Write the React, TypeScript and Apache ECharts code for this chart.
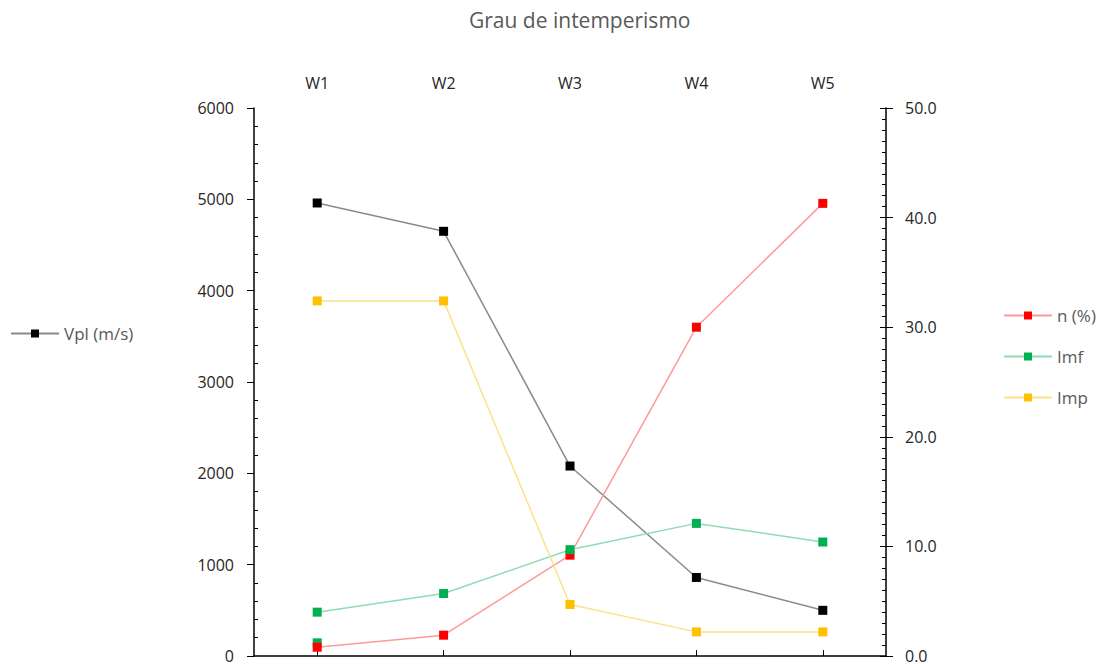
import React, { useEffect, useRef } from "react";
import * as echarts from "echarts";

const categories = ["W1", "W2", "W3", "W4", "W5"];
const vpl = [4960, 4650, 2080, 860, 500];
const nPct = [0.8, 1.9, 9.2, 30.0, 41.3];
const imf = [4.0, 5.7, 9.7, 12.1, 10.4];
const imp = [32.4, 32.4, 4.7, 2.2, 2.2];
const extraGreen = [1.2, null, null, null, null];

const FONT = "'Open Sans', 'Noto Sans', sans-serif";

export default function App() {
  const ref = useRef<HTMLDivElement>(null);
  useEffect(() => {
    if (!ref.current) return;
    const chart = echarts.init(ref.current, null, { renderer: "svg" });
    const axisLine = { show: true, lineStyle: { color: "#000", width: 1.5 } };
    const labelStyle = { color: "#262626", fontSize: 16, fontFamily: FONT };
    const legendText = { color: "#595959", fontSize: 17, fontFamily: FONT };
    chart.setOption({
      animation: false,
      backgroundColor: "#fff",
      title: {
        text: "Grau de intemperismo",
        left: 464,
        top: 4,
        textStyle: { color: "#595959", fontSize: 21, fontWeight: "normal", fontFamily: FONT },
      },
      legend: [
        {
          data: ["Vpl (m/s)"],
          left: 5,
          top: 320,
          itemWidth: 48,
          itemHeight: 10,
          textStyle: legendText,
        },
        {
          data: ["n (%)", "Imf", "Imp"],
          orient: "vertical",
          left: 998,
          top: 302,
          itemWidth: 48,
          itemHeight: 10,
          itemGap: 24,
          textStyle: legendText,
        },
      ],
      grid: { left: 254, right: 222, top: 108, bottom: 3, containLabel: false },
      xAxis: {
        type: "category",
        position: "top",
        data: categories,
        boundaryGap: true,
        axisLine,
        axisTick: { show: true, alignWithLabel: true, length: 6, lineStyle: { color: "#000" } },
        axisLabel: { ...labelStyle, margin: 17 },
        splitLine: { show: false },
      },
      yAxis: [
        {
          type: "value",
          position: "left",
          min: 0,
          max: 6000,
          interval: 1000,
          axisLine,
          axisTick: { show: true, length: 7, lineStyle: { color: "#000" } },
          axisLabel: { ...labelStyle, margin: 20, formatter: (v: number) => String(v) },
          splitLine: { show: false },
        },
        {
          type: "value",
          position: "left",
          min: 0,
          max: 6000,
          interval: 1000,
          axisLine: { show: false },
          axisTick: { show: false, inside: true },
          minorTick: { show: true, splitNumber: 5, length: 4, lineStyle: { color: "#000" } },
          axisLabel: { show: false },
          splitLine: { show: false },
        },
        {
          type: "value",
          position: "right",
          min: 0,
          max: 50,
          interval: 10,
          axisLine,
          axisTick: { show: true, length: 7, lineStyle: { color: "#000" } },
          axisLabel: { ...labelStyle, margin: 19, formatter: (v: number) => v.toFixed(1) },
          splitLine: { show: false },
        },
        {
          type: "value",
          position: "right",
          min: 0,
          max: 50,
          interval: 10,
          axisLine: { show: false },
          axisTick: { show: true, inside: true, length: 6, lineStyle: { color: "#000" } },
          minorTick: { show: true, splitNumber: 10, length: 4, lineStyle: { color: "#000" } },
          axisLabel: { show: false },
          splitLine: { show: false },
        },
      ],
      series: [
        {
          name: "Vpl (m/s)",
          type: "line",
          yAxisIndex: 0,
          data: vpl,
          symbol: "rect",
          symbolSize: 9,
          lineStyle: { color: "#8a8a8a", width: 1.5 },
          itemStyle: { color: "#000000" },
        },
        {
          name: "extra",
          type: "line",
          yAxisIndex: 2,
          data: extraGreen,
          symbol: "rect",
          symbolSize: 9,
          showSymbol: true,
          lineStyle: { width: 0 },
          itemStyle: { color: "#00b050" },
        },
        {
          name: "n (%)",
          type: "line",
          yAxisIndex: 2,
          data: nPct,
          symbol: "rect",
          symbolSize: 9,
          lineStyle: { color: "#ff9999", width: 1.5 },
          itemStyle: { color: "#ff0000" },
        },
        {
          name: "Imf",
          type: "line",
          yAxisIndex: 2,
          data: imf,
          symbol: "rect",
          symbolSize: 9,
          lineStyle: { color: "#8fdcb2", width: 1.5 },
          itemStyle: { color: "#00b050" },
        },
        {
          name: "Imp",
          type: "line",
          yAxisIndex: 2,
          data: imp,
          symbol: "rect",
          symbolSize: 9,
          lineStyle: { color: "#ffe08a", width: 1.5 },
          itemStyle: { color: "#ffc000" },
        },
      ],
    });
    return () => chart.dispose();
  }, []);
  return (
    <div
      ref={ref}
      style={{ position: "fixed", left: 0, top: 0, width: 1108, height: 664 }}
    />
  );
}
